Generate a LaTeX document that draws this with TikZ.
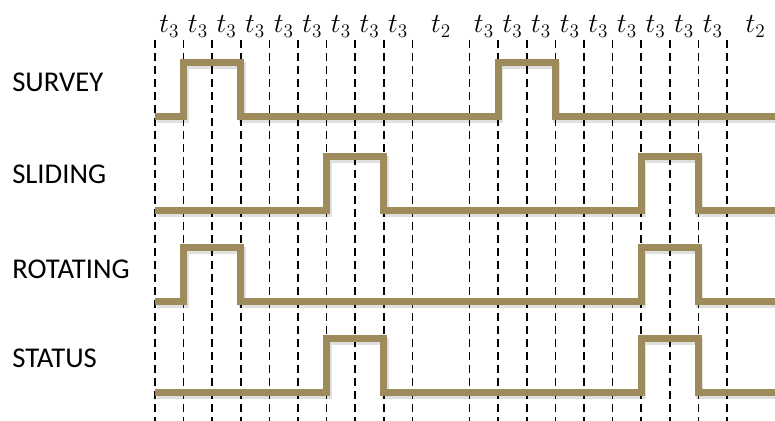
\documentclass[tikz,border=0pt]{standalone}
\usepackage{fontspec}
\newfontfamily\labelfont{Carlito}
\usetikzlibrary{positioning}
\definecolor{wavecolor}{RGB}{157,139,92}

\newcommand{\xstart}{155}
\newcommand{\tthree}{28.6}
% one signal: base line, start of first pulse, start of second pulse (in t3 steps)
\newcommand{\signal}[3]{%
  \draw[waveshadow] ({\xstart+1.5},{#1-2.5}) -- ({\xstart+#2*\tthree+1.5},{#1-2.5}) -- ++(0,54) -- ++({2*\tthree},0) -- ++(0,-54)
    -- ({\xstart+#3*\tthree+1.5},{#1-2.5}) -- ++(0,54) -- ++({2*\tthree},0) -- ++(0,-54) -- (790,{#1-2.5});
  \draw[waveline] (\xstart,#1) -- ({\xstart+#2*\tthree},#1) -- ++(0,54) -- ++({2*\tthree},0) -- ++(0,-54)
    -- ({\xstart+#3*\tthree},#1) -- ++(0,54) -- ++({2*\tthree},0) -- ++(0,-54) -- (790,#1);
}

\begin{document}
\begin{tikzpicture}[
  x=0.75pt, y=0.75pt,
  gridline/.style={black, line width=1.3pt, dash pattern=on 6pt off 3.75pt},
  waveline/.style={draw=wavecolor, line width=5.25pt, line join=miter},
  waveshadow/.style={draw=black, line width=5.25pt, line join=miter, opacity=0.12},
  siglabel/.style={anchor=base west, inner sep=0pt, font=\labelfont\fontsize{21.5}{24}\selectfont},
  tlabel/.style={anchor=base, inner sep=0pt, font=\fontsize{22}{26}\selectfont}
]
\useasboundingbox (0,0) rectangle (775,421);
\clip (0,0) rectangle (775,421);

% time marks, two periods of 11 steps
\foreach \h in {0,11} {
  \foreach \k in {0,...,9}
    \draw[gridline] ({\xstart+(\h+\k)*\tthree},381) -- ({\xstart+(\h+\k)*\tthree},0);
  \foreach \k in {0,...,8}
    \node[tlabel] (t\h-\k) at ({\xstart+(\h+\k+0.5)*\tthree},388) {$t_3$};
  \node[tlabel] (t\h-t2) at ({\xstart+(\h+10)*\tthree},388) {$t_2$};
}

% signals
\signal{304}{1}{12}
\signal{210}{6}{17}
\signal{119}{1}{17}
\signal{28}{6}{17}

\node[siglabel] (survey) at (12,329) {SURVEY};
\node[siglabel] (sliding) at (12,237) {SLIDING};
\node[siglabel] (rotating) at (12,142) {ROTATING};
\node[siglabel] (status) at (12,53) {STATUS};

\end{tikzpicture}
\end{document}
